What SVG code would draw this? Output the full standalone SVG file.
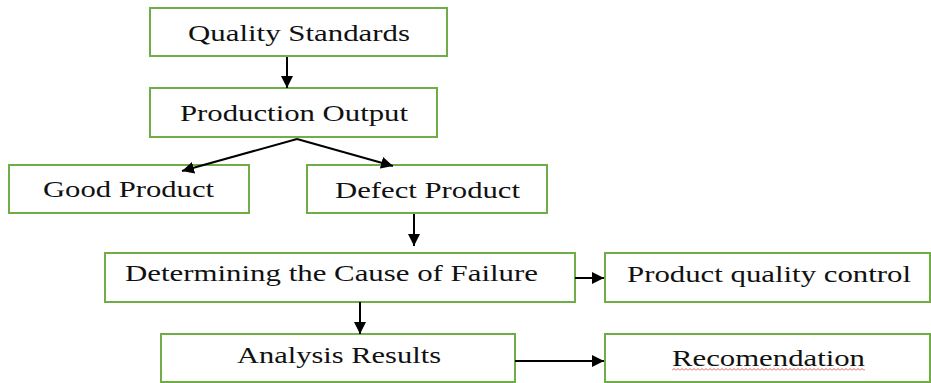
<svg xmlns="http://www.w3.org/2000/svg" width="931" height="383" viewBox="0 0 931 383">
<style>
.box{fill:#ffffff;stroke:#70AD47;stroke-width:2}
.lbl{font-family:"Liberation Serif","Times New Roman",serif;font-size:24px;fill:#111111}
.con{stroke:#000000;stroke-width:2;fill:none}
</style>
<defs>
<marker id="ah" markerUnits="userSpaceOnUse" markerWidth="14" markerHeight="12" refX="12" refY="6" orient="auto">
<path d="M0,0 L12,6 L0,12 Z" fill="#000000"/>
</marker>
<pattern id="squiggle" patternUnits="userSpaceOnUse" x="672" y="368" width="4" height="3">
<path d="M0,2.5 L2,0.5 L4,2.5" fill="none" stroke="#e03030" stroke-width="0.8"/>
</pattern>
</defs>
<rect width="931" height="383" fill="#ffffff"/>
<g id="quality-standards">
<rect class="box" x="150" y="8" width="297" height="48"/>
<text class="lbl" x="188" y="41" textLength="222" lengthAdjust="spacingAndGlyphs">Quality Standards</text>
</g>
<g id="production-output">
<rect class="box" x="150" y="88" width="287" height="49"/>
<text class="lbl" x="180" y="121" textLength="228" lengthAdjust="spacingAndGlyphs">Production Output</text>
</g>
<g id="good-product">
<rect class="box" x="9" y="165" width="240" height="48"/>
<text class="lbl" x="43" y="197" textLength="171" lengthAdjust="spacingAndGlyphs">Good Product</text>
</g>
<g id="defect-product">
<rect class="box" x="307" y="165" width="240" height="48"/>
<text class="lbl" x="335" y="198" textLength="185" lengthAdjust="spacingAndGlyphs">Defect Product</text>
</g>
<g id="determining-cause">
<rect class="box" x="105" y="253" width="470" height="49"/>
<text class="lbl" x="125" y="281" textLength="413" lengthAdjust="spacingAndGlyphs">Determining the Cause of Failure</text>
</g>
<g id="product-quality-control">
<rect class="box" x="605" y="253" width="325" height="49"/>
<text class="lbl" x="627" y="282" textLength="284" lengthAdjust="spacingAndGlyphs">Product quality control</text>
</g>
<g id="analysis-results">
<rect class="box" x="161" y="334" width="354" height="48"/>
<text class="lbl" x="237" y="363" textLength="204" lengthAdjust="spacingAndGlyphs">Analysis Results</text>
</g>
<g id="recomendation">
<rect class="box" x="605" y="334" width="325" height="48"/>
<text class="lbl" x="672" y="366" textLength="193" lengthAdjust="spacingAndGlyphs">Recomendation</text>
<rect x="672" y="368" width="193" height="3" fill="url(#squiggle)"/>
</g>
<g id="connectors">
<line class="con" x1="287" y1="57" x2="287" y2="88" marker-end="url(#ah)"/>
<line class="con" x1="297" y1="139" x2="182" y2="171" marker-end="url(#ah)"/>
<line class="con" x1="297" y1="139" x2="393" y2="166" marker-end="url(#ah)"/>
<line class="con" x1="414" y1="214" x2="414" y2="246" marker-end="url(#ah)"/>
<line class="con" x1="575" y1="278" x2="604" y2="278" marker-end="url(#ah)"/>
<line class="con" x1="360" y1="302" x2="360" y2="334" marker-end="url(#ah)"/>
<line class="con" x1="515" y1="361" x2="604" y2="361" marker-end="url(#ah)"/>
</g>
</svg>
